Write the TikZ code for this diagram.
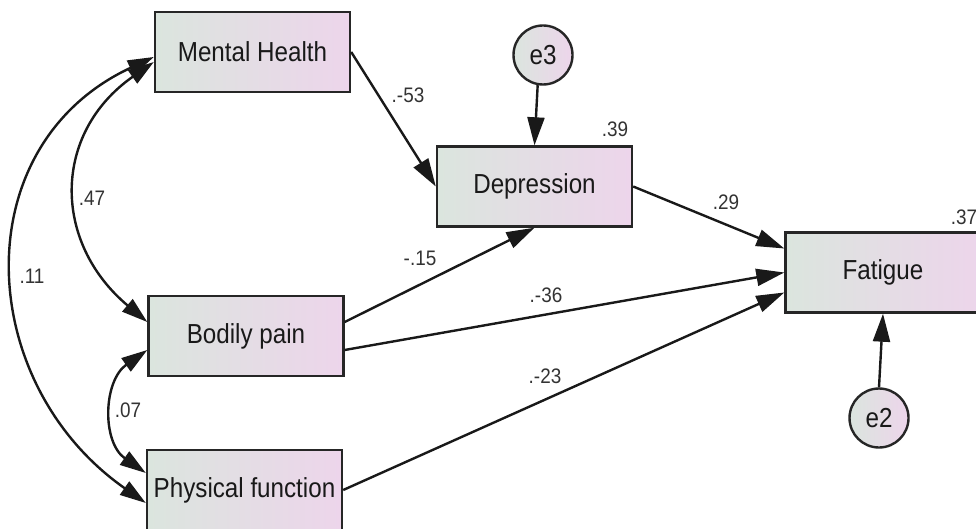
\documentclass[tikz,border=0pt]{standalone}
\usepackage{fontspec}
\setmainfont{Liberation Sans}
\newfontfamily\boxfont[FakeStretch=0.88]{Liberation Sans}
\newfontfamily\labfont[FakeStretch=0.9]{Liberation Sans}
\usetikzlibrary{arrows.meta}
\definecolor{lc}{RGB}{219,229,222}
\definecolor{rc}{RGB}{237,213,235}
\definecolor{txt}{RGB}{25,25,25}
\begin{document}
\begin{tikzpicture}[x=1pt,y=1pt,
 var/.style={draw=black!85, line width=2.4pt, left color=lc, right color=rc, minimum width=195pt, minimum height=80pt, inner sep=0pt, font=\boxfont\fontsize{27.5}{30}\selectfont, text=txt},
 err/.style={circle, draw=black!85, line width=2.4pt, left color=lc, right color=rc, minimum size=59pt, inner sep=0pt, font=\boxfont\fontsize{27.5}{30}\selectfont, text=txt},
 arr/.style={line width=2.4pt, draw=black!90, -{Triangle[length=28pt,width=17pt]}},
 cov/.style={line width=2.4pt, draw=black!90, {Triangle[length=26pt,width=16pt]}-{Triangle[length=26pt,width=16pt]}},
 lab/.style={font=\labfont\fontsize{21}{24}\selectfont, text=black!80}]
\useasboundingbox (0,0) rectangle (976,-529);
\fill[white] (0,0) rectangle (976,-529);
\clip (0,0) rectangle (976,-529);

\node[var] (mh) at (252.5,-52) {Mental Health};
\node[var] (dep) at (534.5,-186.5) {Depression};
\node[var] (fat) at (883,-272.5) {Fatigue};
\node[var] (bp) at (246,-336) {Bodily pain};
\node[var] (pf) at (244.5,-490) {Physical function};
\node[err] (e3) at (543,-55) {e3};
\node[err] (e2) at (879,-418) {e2};

\draw[arr] (mh.east) -- (dep.west);
\draw[arr] ([yshift=14pt]bp.east) -- (dep.south);
\draw[arr] ([yshift=-14pt]bp.east) -- (fat.west);
\draw[arr] (pf.east) -- ([yshift=-20pt]fat.west);
\draw[arr] (dep.east) -- ([yshift=24pt]fat.west);
\draw[arr] (e3.-100) -- (dep.north);
\draw[arr] (e2.north) -- (fat.south);

\draw[cov] ([yshift=-10pt]mh.west) to[out=215,in=140,looseness=1.22] ([yshift=14pt]bp.west);
\draw[cov] ([yshift=-5pt]mh.west) to[out=205,in=145,looseness=1.2] ([yshift=-13pt]pf.west);
\draw[cov] ([yshift=-14pt]bp.west) to[out=215,in=145,looseness=1.12] ([yshift=17pt]pf.west);

\node[lab] (l1) at (408,-95) {.-53};
\node[lab] (l2) at (615,-129) {.39};
\node[lab] (l3) at (726,-202) {.29};
\node[lab] (l4) at (964,-217) {.37};
\node[lab] (l5) at (420,-258) {-.15};
\node[lab] (l6) at (546,-295) {.-36};
\node[lab] (l7) at (545,-376) {.-23};
\node[lab] (l8) at (92,-198) {.47};
\node[lab] (l9) at (32,-276) {.11};
\node[lab] (l10) at (128,-410) {.07};
\end{tikzpicture}
\end{document}
